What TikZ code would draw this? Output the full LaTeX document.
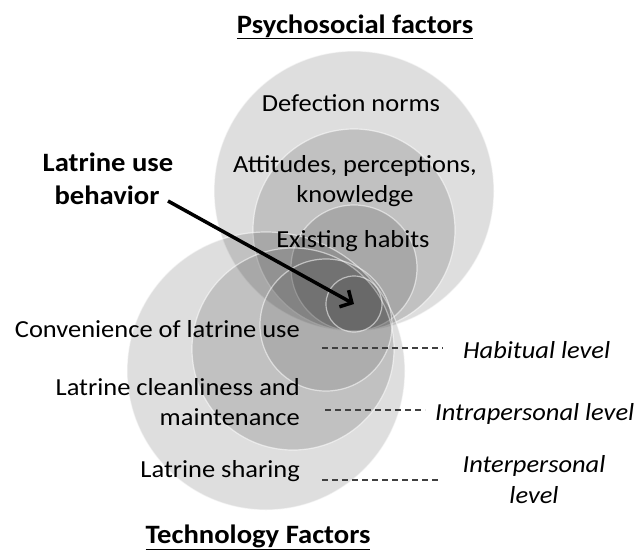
\documentclass[tikz,border=0pt]{standalone}
\usepackage{fontspec}
\setmainfont{Carlito}[FakeStretch=1.08]
\usetikzlibrary{arrows.meta}
\begin{document}
\begin{tikzpicture}[x=1pt,y=-1pt,
  ring/.style={circle, fill=black, fill opacity=0.13, draw=white, draw opacity=0.55, line width=1.2pt, inner sep=0pt},
  body/.style={font=\fontsize{24.5}{30}\selectfont, inner sep=0pt},
  bodyit/.style={font=\fontsize{24.5}{30}\selectfont\itshape, inner sep=0pt},
  titleb/.style={font=\fontsize{26.5}{32}\selectfont\bfseries, inner sep=0pt},
  levelline/.style={draw=black!75, line width=1.1pt, dash pattern=on 6pt off 4pt},
  pointer/.style={draw=black, line width=3.5pt, -{Straight Barb[length=9pt,width=19pt]}}
]
\useasboundingbox (0,0) rectangle (644,554);
% psychosocial circles (tangent at bottom)
\node[ring, minimum size=280pt] (p1) at (354,191) {};
\node[ring, minimum size=202pt] (p2) at (354,230) {};
\node[ring, minimum size=126pt] (p3) at (354,268) {};
% technology circles (tangent at upper right)
\node[ring, minimum size=278pt] (t1) at (266,371) {};
\node[ring, minimum size=202pt] (t2) at (293,349) {};
\node[ring, minimum size=132pt, fill opacity=0.1] (t3) at (326,325) {};
% core circle
\node[ring, minimum size=56pt, fill opacity=0.08] (core) at (354,304) {};

% titles
\node[titleb, anchor=base] (psy) at (355,33) {\underline{Psychosocial factors}};
\node[titleb, anchor=base] (tech) at (258,543) {\underline{Technology Factors}};

% psychosocial labels
\node[body, anchor=base] (def) at (351,111) {Defection norms};
\node[body, anchor=base] (att1) at (355,172) {Attitudes, perceptions,};
\node[body, anchor=base] (att2) at (355,202) {knowledge};
\node[body, anchor=base] (hab) at (353,247) {Existing habits};

% behavior label and arrow
\node[titleb, anchor=base] (lu1) at (108,171) {Latrine use};
\node[titleb, anchor=base] (lu2) at (107,204) {behavior};
\coordinate (as) at (168,201);
\draw[pointer] (as) -- (core.center);

% technology labels
\node[body, anchor=base east] (conv) at (300,337) {Convenience of latrine use};
\node[body, anchor=base east] (clean1) at (300,395) {Latrine cleanliness and};
\node[body, anchor=base east] (clean2) at (300,425) {maintenance};
\node[body, anchor=base east] (share) at (300,477) {Latrine sharing};

% level labels
\node[bodyit, anchor=base west] (lvh) at (463,358) {Habitual level};
\node[bodyit, anchor=base west] (lvi) at (435,420) {Intrapersonal level};
\node[bodyit, anchor=base] (lvp1) at (534,472) {Interpersonal};
\node[bodyit, anchor=base] (lvp2) at (534,503) {level};

% dashed level lines
\coordinate (h1) at (322,348); \coordinate (h2) at (443,348);
\coordinate (i1) at (325,410); \coordinate (i2) at (425,410);
\coordinate (e1) at (322,480); \coordinate (e2) at (440,480);
\draw[levelline] (h1) -- (h2);
\draw[levelline] (i1) -- (i2);
\draw[levelline] (e1) -- (e2);
\end{tikzpicture}
\end{document}
